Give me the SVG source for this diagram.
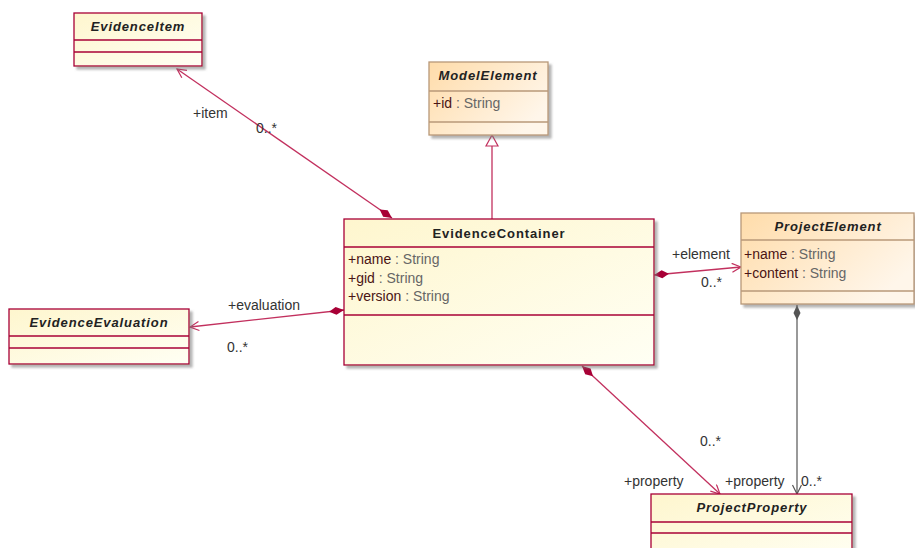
<svg xmlns="http://www.w3.org/2000/svg" width="915" height="548" viewBox="0 0 915 548">
<defs>
<linearGradient id="gy" x1="0" y1="0" x2="1" y2="1">
<stop offset="0" stop-color="#FEF6CE"/>
<stop offset="1" stop-color="#FFFFF4"/>
</linearGradient>
<linearGradient id="go" x1="0" y1="0" x2="1" y2="0.6">
<stop offset="0" stop-color="#FFDCAA"/>
<stop offset="1" stop-color="#FFF6EA"/>
</linearGradient>
<filter id="sh" x="-10%" y="-10%" width="130%" height="130%">
<feDropShadow dx="3" dy="3" stdDeviation="1" flood-color="#777" flood-opacity="0.55"/>
</filter>
<marker id="dia" markerUnits="userSpaceOnUse" markerWidth="18" markerHeight="10" refX="15" refY="5" orient="auto">
<path d="M0,5 L7,1 L15,5 L7,9 Z" fill="#A80036"/>
</marker>
<marker id="diag" markerUnits="userSpaceOnUse" markerWidth="18" markerHeight="10" refX="15" refY="5" orient="auto">
<path d="M0,5 L7,1.5 L15,5 L7,8.5 Z" fill="#555"/>
</marker>
<marker id="arr" markerUnits="userSpaceOnUse" markerWidth="12" markerHeight="12" refX="10" refY="5" orient="auto-start-reverse">
<path d="M1,0.5 L10,5 L1,9.5" fill="none" stroke="#C2305E" stroke-width="1.2"/>
</marker>
<marker id="arrg" markerUnits="userSpaceOnUse" markerWidth="12" markerHeight="12" refX="10" refY="5" orient="auto-start-reverse">
<path d="M1,0.5 L10,5 L1,9.5" fill="none" stroke="#555" stroke-width="1.2"/>
</marker>
</defs>
<style>
.box{stroke:#A80036;stroke-width:1.3;filter:url(#sh)}
.sep{stroke:#A80036;stroke-width:1.3}
.obox{stroke:#B89878;stroke-width:1.3;filter:url(#sh)}
.osep{stroke:#B89878;stroke-width:1.3}
.t{font-family:"Liberation Sans",Arial,sans-serif;font-weight:bold;font-size:13px;letter-spacing:0.9px;fill:#222;text-anchor:middle}
.ti{font-style:italic}
.a{font-family:"Liberation Sans",Arial,sans-serif;font-size:14px;fill:#666}
.an{fill:#4a1414}
.l{font-family:"Liberation Sans",Arial,sans-serif;font-size:14px;fill:#333}
.c{fill:none;stroke:#C2305E;stroke-width:1.3}
.cg{fill:none;stroke:#555;stroke-width:1.2}
</style>

<g id="connectors">
<line class="c" x1="177" y1="69" x2="392" y2="218" marker-start="url(#arr)" marker-end="url(#dia)"/>
<line class="c" x1="190" y1="327" x2="344" y2="310" marker-start="url(#arr)" marker-end="url(#dia)"/>
<line class="c" x1="741" y1="267" x2="654" y2="275" marker-start="url(#arr)" marker-end="url(#dia)"/>
<line class="c" x1="720" y1="494" x2="582" y2="366" marker-start="url(#arr)" marker-end="url(#dia)"/>
<line class="cg" x1="797" y1="494" x2="797" y2="305" marker-start="url(#arrg)" marker-end="url(#diag)"/>
<line class="c" x1="492" y1="219" x2="492" y2="146"/>
<path d="M492,135 L486,146 L498,146 Z" fill="#fff" stroke="#C2305E" stroke-width="1.2"/>
<text class="l" x="193" y="118">+item</text>
<text class="l" x="256" y="133">0..*</text>
<text class="l" x="228" y="310">+evaluation</text>
<text class="l" x="227" y="352">0..*</text>
<text class="l" x="672" y="259">+element</text>
<text class="l" x="701" y="287">0..*</text>
<text class="l" x="700" y="446">0..*</text>
<text class="l" x="624" y="486">+property</text>
<text class="l" x="725" y="486">+property</text>
<text class="l" x="801" y="486">0..*</text>
</g>

<g id="EvidenceItem">
<rect class="box" x="74" y="13" width="128" height="53" fill="url(#gy)"/>
<line class="sep" x1="74" y1="40" x2="202" y2="40"/>
<line class="sep" x1="74" y1="52" x2="202" y2="52"/>
<text class="t ti" x="138" y="31">EvidenceItem</text>
</g>

<g id="ModelElement">
<rect class="obox" x="429" y="62" width="119" height="73" fill="url(#go)"/>
<line class="osep" x1="429" y1="91" x2="548" y2="91"/>
<line class="osep" x1="429" y1="122" x2="548" y2="122"/>
<text class="t ti" x="488" y="80">ModelElement</text>
<text class="a" x="433" y="108"><tspan class="an">+id</tspan> : String</text>
</g>

<g id="EvidenceContainer">
<rect class="box" x="344" y="219" width="310" height="146" fill="url(#gy)"/>
<line class="sep" x1="344" y1="247" x2="654" y2="247"/>
<line class="sep" x1="344" y1="315" x2="654" y2="315"/>
<text class="t" x="499" y="238">EvidenceContainer</text>
<text class="a" x="348" y="264"><tspan class="an">+name</tspan> : String</text>
<text class="a" x="348" y="283"><tspan class="an">+gid</tspan> : String</text>
<text class="a" x="348" y="301"><tspan class="an">+version</tspan> : String</text>
</g>

<g id="ProjectElement">
<rect class="obox" x="741" y="213" width="173" height="91" fill="url(#go)"/>
<line class="osep" x1="741" y1="240" x2="914" y2="240"/>
<line class="osep" x1="741" y1="291" x2="914" y2="291"/>
<text class="t ti" x="828" y="231">ProjectElement</text>
<text class="a" x="744" y="259"><tspan class="an">+name</tspan> : String</text>
<text class="a" x="744" y="278"><tspan class="an">+content</tspan> : String</text>
</g>

<g id="EvidenceEvaluation">
<rect class="box" x="9" y="309" width="180" height="55" fill="url(#gy)"/>
<line class="sep" x1="9" y1="336" x2="189" y2="336"/>
<line class="sep" x1="9" y1="348" x2="189" y2="348"/>
<text class="t ti" x="99" y="327">EvidenceEvaluation</text>
</g>

<g id="ProjectProperty">
<rect class="box" x="651" y="494" width="201" height="70" fill="url(#gy)"/>
<line class="sep" x1="651" y1="522" x2="852" y2="522"/>
<line class="sep" x1="651" y1="533" x2="852" y2="533"/>
<text class="t ti" x="752" y="512">ProjectProperty</text>
</g>
</svg>
